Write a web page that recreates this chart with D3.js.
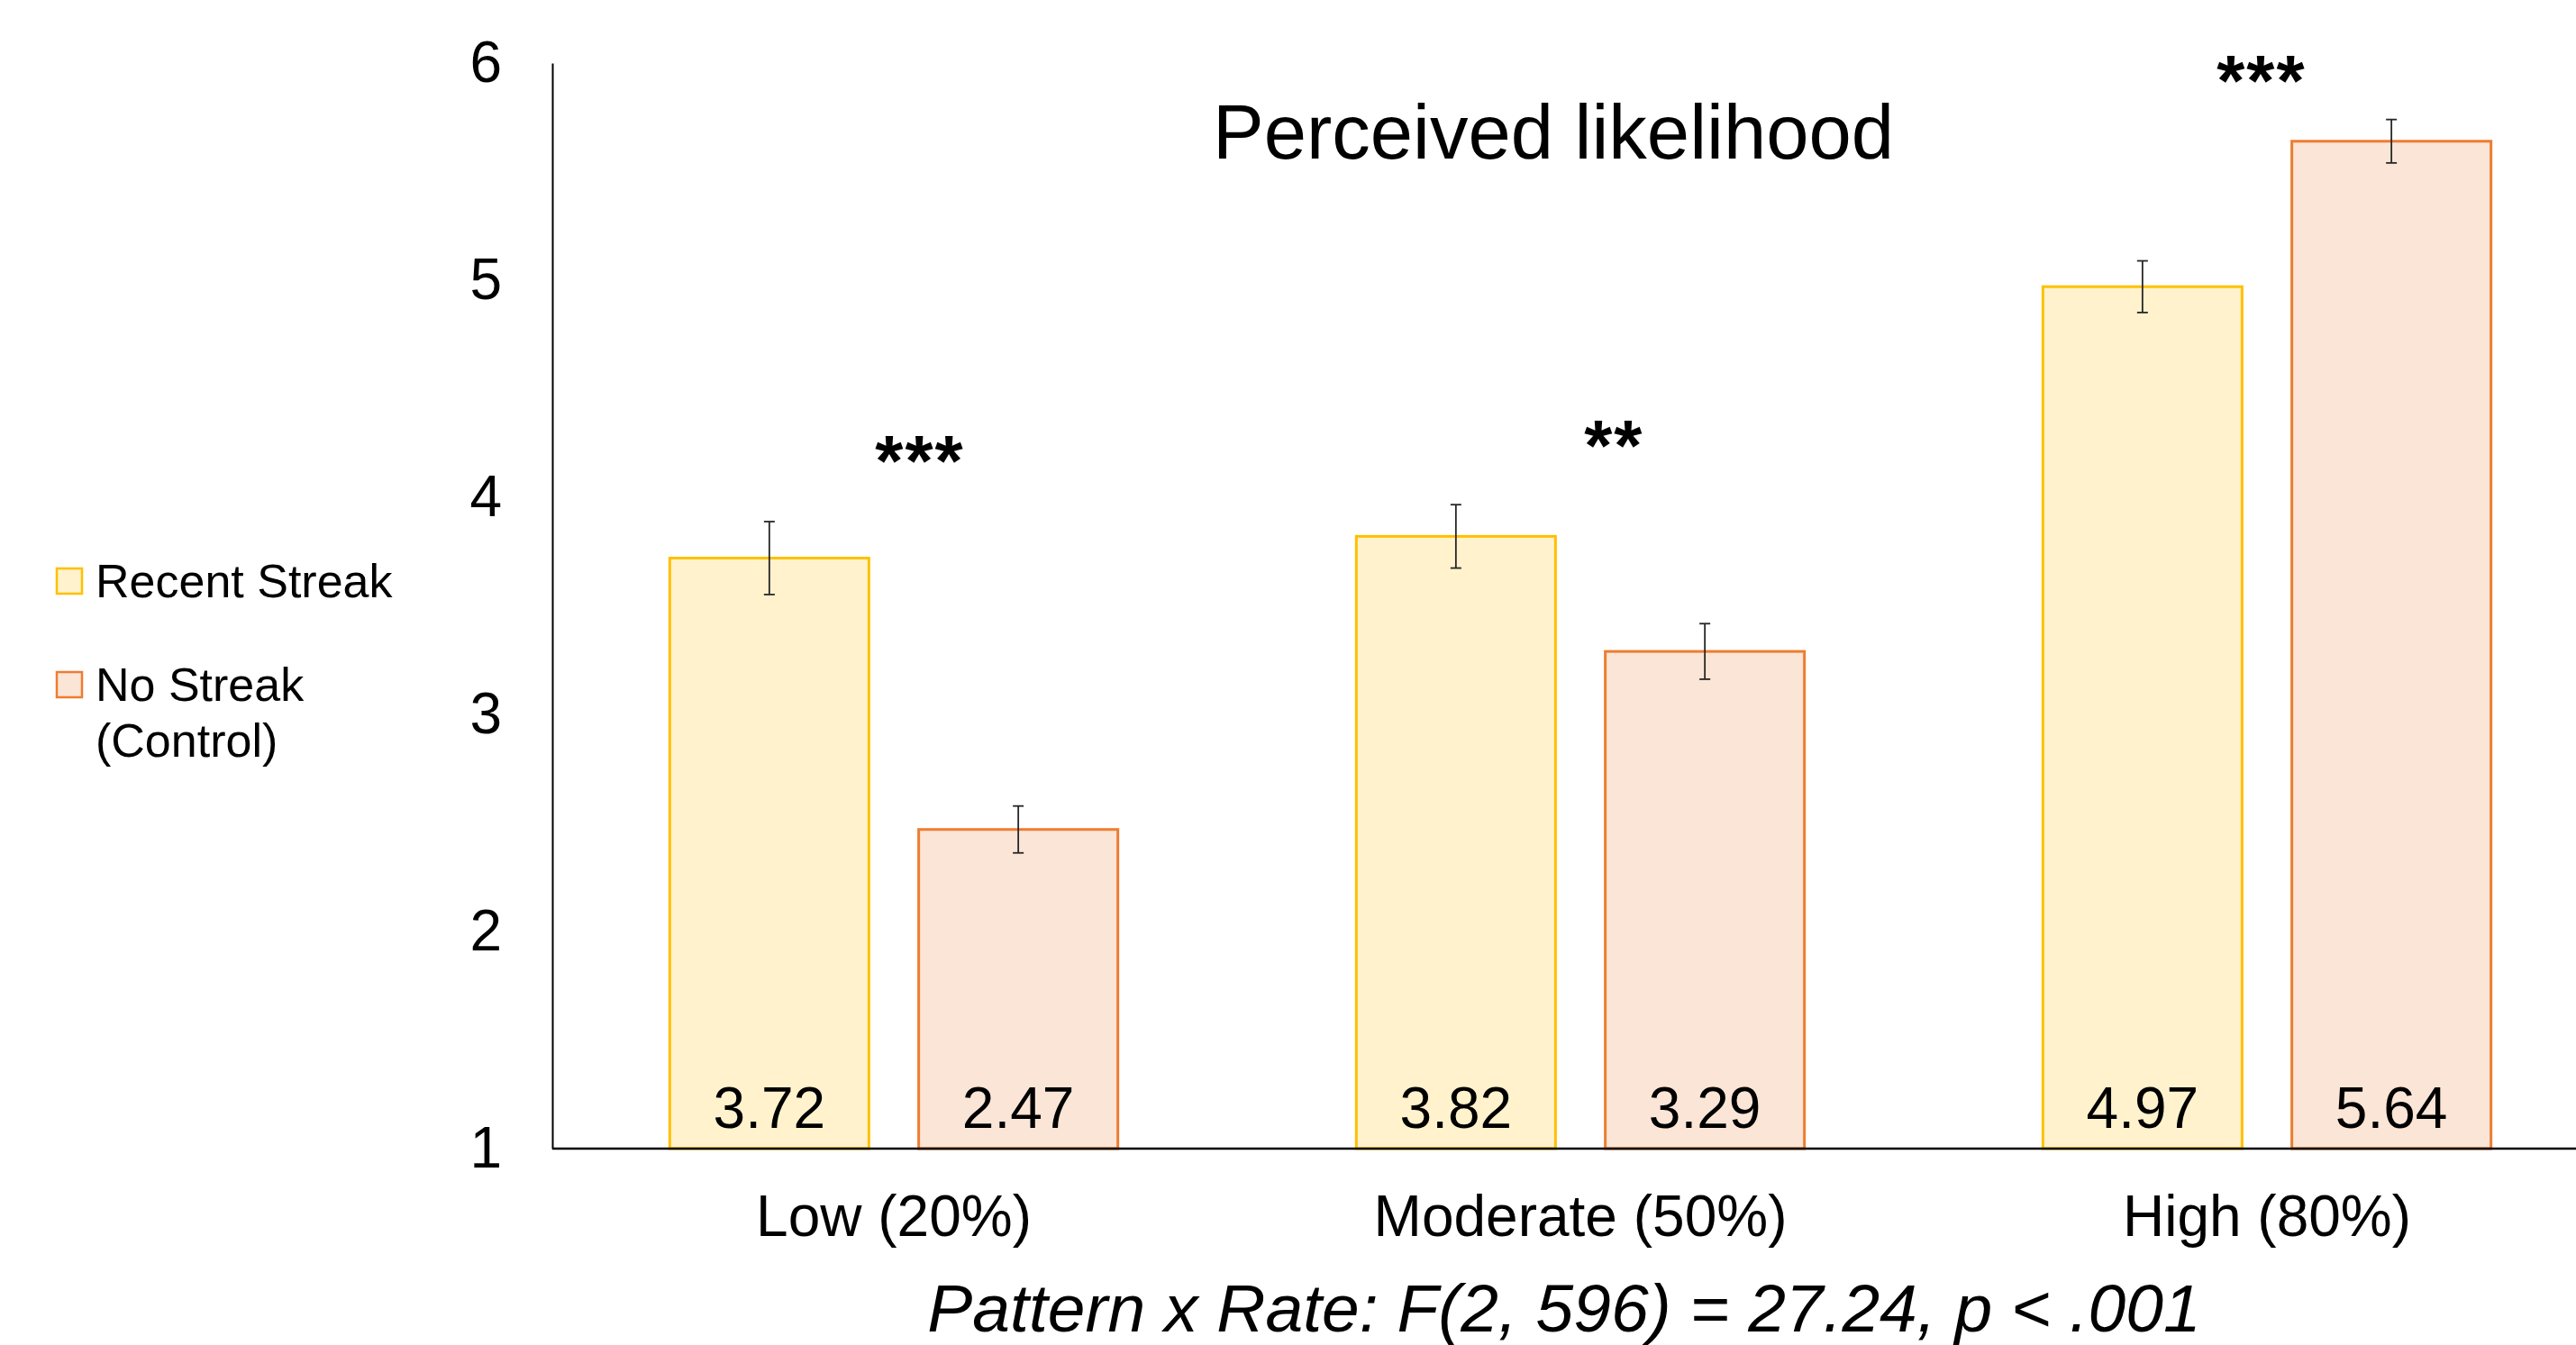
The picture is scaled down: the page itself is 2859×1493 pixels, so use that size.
<!DOCTYPE html>
<html>
<head>
<meta charset="utf-8">
<script src="https://cdn.jsdelivr.net/npm/d3@7"></script>
<style>
  html, body { margin: 0; padding: 0; background: #fff; }
  svg { display: block; }
  text { font-family: "Liberation Sans", Arial, sans-serif; fill: #000; }
</style>
</head>
<body>
<svg id="chart" width="2859" height="1493"></svg>
<script>
// ---- Data ----
const categories = ["Low (20%)", "Moderate (50%)", "High (80%)"];
const seriesNames = ["Recent Streak", "No Streak (Control)"];
const recentStreak = [3.72, 3.82, 4.97];
const noStreak = [2.47, 3.29, 5.64];
const recentErr = [0.168, 0.146, 0.119];
const noStreakErr = [0.108, 0.128, 0.100];
const sigLabels = ["***", "**", "***"];
const sigY = [4.054, 4.124, 5.805];
const sigOffset = [0.038, 0.049, -0.008];
const yTicks = [1, 2, 3, 4, 5, 6];
const titleText = "Perceived likelihood";
const noteText = "Pattern x Rate: F(2, 596) = 27.24, p < .001";

const fills = ["#FFF2CC", "#FBE5D6"];
const strokes = ["#FFC000", "#ED7D31"];

const svg = d3.select("#chart");

const plotLeft = 613, plotTop = 70, plotBottom = 1275;

const x0 = d3.scaleBand().domain(categories).range([611, 2897]).paddingInner(0).paddingOuter(0);
const x1 = d3.scaleBand().domain([0, 1]).range([0, x0.bandwidth()]).paddingInner(0.2).paddingOuter(0.479);
const y = d3.scaleLinear().domain([1, 6]).range([plotBottom, plotTop]);

const series = [recentStreak, noStreak];
const errs = [recentErr, noStreakErr];

// Bars
const groups = svg.append("g").selectAll("g")
  .data(categories).join("g")
  .attr("transform", d => `translate(${x0(d)},0)`);

groups.each(function(cat, ci) {
  const g = d3.select(this);
  [0, 1].forEach(si => {
    const v = series[si][ci];
    g.append("rect")
      .attr("x", x1(si))
      .attr("y", y(v))
      .attr("width", x1.bandwidth())
      .attr("height", y(1) - y(v))
      .attr("fill", fills[si])
      .attr("stroke", strokes[si])
      .attr("stroke-width", 3);
  });
});

// Error bars
groups.each(function(cat, ci) {
  const g = d3.select(this);
  [0, 1].forEach(si => {
    const v = series[si][ci], e = errs[si][ci];
    const cx = x1(si) + x1.bandwidth() / 2;
    const eg = g.append("g").attr("stroke", "#262626").attr("stroke-width", 1.8);
    eg.append("line").attr("x1", cx).attr("x2", cx).attr("y1", y(v + e)).attr("y2", y(v - e));
    eg.append("line").attr("x1", cx - 6).attr("x2", cx + 6).attr("y1", y(v + e)).attr("y2", y(v + e));
    eg.append("line").attr("x1", cx - 6).attr("x2", cx + 6).attr("y1", y(v - e)).attr("y2", y(v - e));
  });
});

// Value labels inside bars
groups.each(function(cat, ci) {
  const g = d3.select(this);
  [0, 1].forEach(si => {
    g.append("text")
      .attr("x", x1(si) + x1.bandwidth() / 2)
      .attr("y", y(1) - 23)
      .attr("text-anchor", "middle")
      .attr("font-size", 64)
      .text(series[si][ci].toFixed(2));
  });
});

// Significance asterisks
groups.each(function(cat, ci) {
  d3.select(this).append("text")
    .attr("x", x0.bandwidth() / 2 + sigOffset[ci] * x0.bandwidth())
    .attr("y", y(sigY[ci]))
    .attr("text-anchor", "middle")
    .attr("font-size", 80)
    .attr("font-weight", "bold")
    .attr("letter-spacing", 2)
    .text(sigLabels[ci]);
});

// Y axis
const yAxis = d3.axisLeft(y).tickValues(yTicks).tickSize(0).tickPadding(56).tickFormat(d3.format("d"));
const yg = svg.append("g").attr("transform", `translate(${plotLeft},0)`).call(yAxis);
yg.select(".domain").attr("stroke", "#000").attr("stroke-width", 2);
yg.selectAll("text").attr("font-size", 64).attr("font-family", "Liberation Sans, Arial, sans-serif").attr("fill", "#000");

// X axis
const xAxis = d3.axisBottom(x0).tickSize(0).tickPadding(52);
const xg = svg.append("g").attr("transform", `translate(0,${plotBottom})`).call(xAxis);
xg.select(".domain").attr("d", `M${plotLeft},0H2859`).attr("stroke", "#000").attr("stroke-width", 2.5);
xg.selectAll("text").attr("font-size", 64).attr("font-family", "Liberation Sans, Arial, sans-serif").attr("fill", "#000")
  .attr("dy", "0.71em");

// Title
svg.append("text")
  .attr("x", 1724).attr("y", 176)
  .attr("text-anchor", "middle")
  .attr("font-size", 85)
  .text(titleText);

// Footnote
svg.append("text")
  .attr("x", 1736).attr("y", 1478)
  .attr("text-anchor", "middle")
  .attr("font-size", 75)
  .attr("font-style", "italic")
  .text(noteText);

// Legend
const legendItems = [
  { lines: ["Recent Streak"], y: 631 },
  { lines: ["No Streak", "(Control)"], y: 746 }
];
const lg = svg.append("g");
legendItems.forEach((item, i) => {
  lg.append("rect")
    .attr("x", 63).attr("y", item.y)
    .attr("width", 28).attr("height", 28)
    .attr("fill", fills[i]).attr("stroke", strokes[i]).attr("stroke-width", 2.5);
  item.lines.forEach((ln, j) => {
    lg.append("text")
      .attr("x", 106).attr("y", item.y + 32 + j * 62)
      .attr("font-size", 52)
      .text(ln);
  });
});
</script>
</body>
</html>
